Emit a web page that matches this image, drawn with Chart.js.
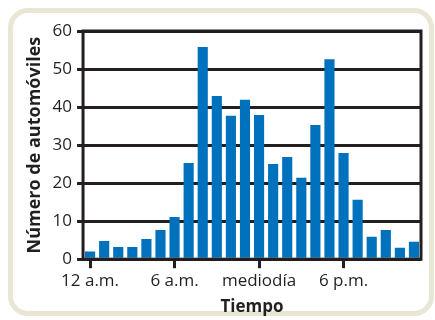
<!DOCTYPE html>
<html>
<head>
<meta charset="utf-8">
<script src="https://cdn.jsdelivr.net/npm/chart.js@4"></script>
<style>
  body { margin: 0; background: #fff; }
  #wrap { position: relative; width: 435px; height: 320px; }
  #frame {
    position: absolute; left: 8px; top: 8px; width: 416px; height: 298px;
    border: 5px solid #e9e6d4; border-radius: 20px; background: #fff;
  }
  canvas { position: absolute; left: 0; top: 0; }
</style>
</head>
<body>
<div id="wrap">
  <div id="frame"></div>
  <canvas id="chart" width="435" height="320"></canvas>
</div>
<script>
// horas del dia, 0 = 12 a.m.
var horas = ['12 a.m.', '1', '2', '3', '4', '5', '6 a.m.', '7', '8', '9', '10', '11',
             'mediodía', '1', '2', '3', '4', '5', '6 p.m.', '7', '8', '9', '10', '11']
var autos = [2, 4.8, 3.2, 3.2, 5.3, 7.7, 11.1, 25.3, 55.8, 42.9, 37.7, 41.9,
             37.9, 25, 26.9, 21.4, 35.3, 52.6, 27.9, 15.6, 5.9, 7.7, 3, 4.6]
var marcas = [0, 6, 12, 18]
var yTicks = [0, 10, 20, 30, 40, 50, 60]

var ink = '#231f20'
var fuente = "'Open Sans', sans-serif"

var marco = {
    id: 'marco',
    afterDatasetsDraw(chart) {
        var a = chart.chartArea
        var ctx = chart.ctx
        ctx.save()
        ctx.strokeStyle = ink
        ctx.lineWidth = 3
        ctx.strokeRect(a.left, a.top, a.right - a.left, a.bottom - a.top)
        ctx.restore()
    }
}

var ctx = document.getElementById('chart').getContext('2d')
var grafica = new Chart(ctx, {
    type: 'bar',
    data: {
        labels: horas,
        datasets: [{
            label: 'Automóviles',
            data: autos,
            backgroundColor: '#0071bc',
            barPercentage: 0.72,
            categoryPercentage: 1
        }]
    },
    options: {
        responsive: false,
        animation: false,
        layout: { padding: { top: 31, right: 14, bottom: 3, left: 24 } },
        plugins: { legend: { display: false }, tooltip: { enabled: false } },
        scales: {
            x: {
                grid: {
                    offset: false,
                    drawOnChartArea: false,
                    tickLength: 9,
                    lineWidth: 3,
                    color: function (c) {
                        return marcas.indexOf(c.index) >= 0 ? ink : 'rgba(0,0,0,0)'
                    }
                },
                border: { display: false },
                ticks: {
                    autoSkip: false,
                    maxRotation: 0,
                    padding: 3,
                    color: ink,
                    font: { family: fuente, size: 17 },
                    callback: function (v, i) {
                        return marcas.indexOf(i) >= 0 ? horas[i] : ''
                    }
                },
                title: {
                    display: true,
                    text: 'Tiempo',
                    color: ink,
                    padding: { top: 2, bottom: 0 },
                    font: { family: fuente, size: 17, weight: 'bold' }
                }
            },
            y: {
                min: 0,
                max: 60,
                afterBuildTicks: function (axis) {
                    axis.ticks = yTicks.map(function (v) { return { value: v } })
                },
                grid: { color: ink, lineWidth: 3, tickLength: 6 },
                border: { display: false },
                ticks: {
                    color: ink,
                    padding: 5,
                    font: { family: fuente, size: 17 }
                },
                title: {
                    display: true,
                    text: 'Número de automóviles',
                    color: ink,
                    padding: { top: 0, bottom: 2 },
                    font: { family: fuente, size: 18, weight: 'bold' }
                }
            }
        }
    },
    plugins: [marco]
})
</script>
</body>
</html>
